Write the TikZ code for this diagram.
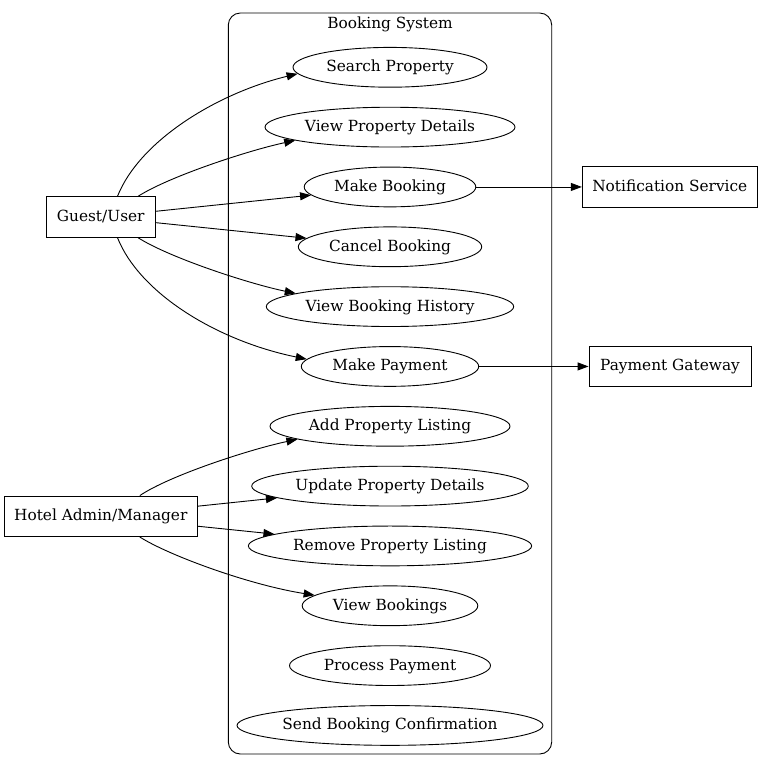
\documentclass[tikz,border=0pt]{standalone}
\usepackage{fontspec}
\setmainfont{DejaVu Serif}
\usetikzlibrary{shapes.geometric,arrows.meta}
\tikzset{
  uc/.style={draw, ellipse, inner xsep=-8pt, inner ysep=0pt, minimum height=39.8pt, text height=11.5pt, text depth=2.5pt},
  actor/.style={draw, rectangle, inner sep=0pt, minimum height=40.6pt, text height=11.5pt, text depth=2.5pt},
  arr/.style={-{Triangle[length=11pt,width=8pt]}, line width=0.9pt},
}
\begin{document}
\begin{tikzpicture}[x=1pt, y=-1pt, line width=0.9pt, font=\fontsize{15.35pt}{18pt}\selectfont]
\useasboundingbox (0,0) rectangle (762,768);
% cluster
\node[draw, rectangle, rounded corners=12pt, inner sep=0pt, minimum width=323.4pt, minimum height=741pt] (cl) at (390,383.5) {};
\node[inner sep=0pt, text height=11.5pt, text depth=2.5pt] (cllabel) at (390,24.5) {Booking System};
% use cases
\node[uc, minimum width=194pt]   (sp)  at (390,67.3)   {Search Property};
\node[uc, minimum width=250pt]   (vpd) at (390,127.13) {View Property Details};
\node[uc, minimum width=171.6pt] (mb)  at (390,186.96) {Make Booking};
\node[uc, minimum width=183.4pt] (cb)  at (390,246.79) {Cancel Booking};
\node[uc, minimum width=247.4pt] (vbh) at (390,306.62) {View Booking History};
\node[uc, minimum width=177.4pt] (mp)  at (390,366.45) {Make Payment};
\node[uc, minimum width=240pt]   (apl) at (390,426.28) {Add Property Listing};
\node[uc, minimum width=276.6pt] (upd) at (390,486.11) {Update Property Details};
\node[uc, minimum width=283.3pt] (rpl) at (390,545.94) {Remove Property Listing};
\node[uc, minimum width=175.6pt] (vb)  at (390,605.77) {View Bookings};
\node[uc, minimum width=201pt]   (pp)  at (390,665.6)  {Process Payment};
\node[uc, minimum width=306pt]   (sbc) at (390,725.43) {Send Booking Confirmation};
% actors
\node[actor, minimum width=109.3pt] (g)  at (100.7,217)  {Guest/User};
\node[actor, minimum width=193.7pt] (ad) at (100.8,516.3) {Hotel Admin/Manager};
\node[actor, minimum width=175pt]   (ns) at (669.8,186.96) {Notification Service};
\node[actor, minimum width=162pt]   (pg) at (670,366.45) {Payment Gateway};
% guest edges
\draw[arr] (g.51) .. controls (140,140) and (218,93) .. (sp.184);
\draw[arr] (g.29) .. controls (170,176) and (250,150) .. (vpd.188);
\draw[arr] (g) -- (mb);
\draw[arr] (g) -- (cb);
\draw[arr] (g.-29) .. controls (170,258) and (250,284) .. (vbh.172);
\draw[arr] (g.-51) .. controls (140,294) and (218,341) .. (mp.175);
% admin edges
\draw[arr] (ad.28) .. controls (170,475.3) and (250,449.3) .. (apl.188);
\draw[arr] (ad) -- (upd);
\draw[arr] (ad) -- (rpl);
\draw[arr] (ad.-28) .. controls (170,556) and (250,585) .. (vb.172);
% external
\draw[arr] (mb) -- (ns);
\draw[arr] (mp) -- (pg);
\end{tikzpicture}
\end{document}
